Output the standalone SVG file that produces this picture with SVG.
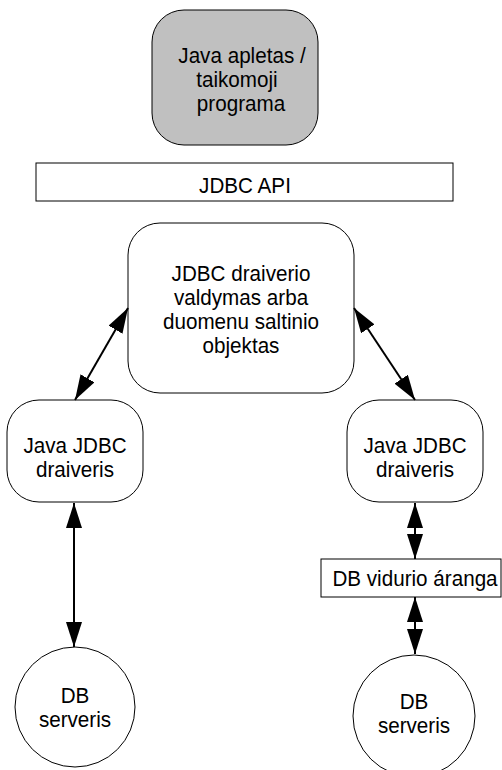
<svg xmlns="http://www.w3.org/2000/svg" width="502" height="770" viewBox="0 0 502 770">
<style>
.box{fill:#fff;stroke:#000;stroke-width:1}
.gray{fill:#c0c0c0;stroke:#000;stroke-width:1}
.t{font-family:"Liberation Sans",Arial,sans-serif;font-size:21.4px;fill:#000;text-anchor:middle}
.c{stroke:#000;stroke-width:2;fill:none;marker-start:url(#ah);marker-end:url(#ah)}
</style>
<defs>
<marker id="ah" viewBox="0 0 25 16" refX="25" refY="8" markerWidth="25" markerHeight="16" markerUnits="userSpaceOnUse" orient="auto-start-reverse">
<path d="M0,0 L25,8 L0,16 z" fill="#000"/>
</marker>
</defs>
<g id="app">
<rect class="gray" x="152" y="10" width="166" height="135" rx="32" ry="32"/>
<text class="t" transform="translate(242,63) scale(0.965,1)"><tspan x="0" y="0">Java apletas /</tspan><tspan x="-5.2" y="24">taikomoji</tspan><tspan x="-1" y="48">programa</tspan></text>
</g>
<g id="api">
<rect class="box" x="36" y="163" width="417" height="38"/>
<text class="t" transform="translate(245,193) scale(0.965,1)">JDBC API</text>
</g>
<g id="manager">
<rect class="box" x="128" y="223" width="226" height="170" rx="32" ry="32"/>
<text class="t" transform="translate(241,281) scale(0.965,1)"><tspan x="0" y="0">JDBC draiverio</tspan><tspan x="0" y="24">valdymas arba</tspan><tspan x="0" y="48">duomenu saltinio</tspan><tspan x="0" y="72">objektas</tspan></text>
</g>
<g id="driver1">
<rect class="box" x="7" y="400" width="136" height="102" rx="32" ry="32"/>
<text class="t" transform="translate(75,453) scale(0.965,1)"><tspan x="0" y="0">Java JDBC</tspan><tspan x="0" y="24">draiveris</tspan></text>
</g>
<g id="driver2">
<rect class="box" x="347" y="400" width="136" height="102" rx="32" ry="32"/>
<text class="t" transform="translate(415,453) scale(0.965,1)"><tspan x="0" y="0">Java JDBC</tspan><tspan x="0" y="24">draiveris</tspan></text>
</g>
<g id="middleware">
<rect class="box" x="321" y="559" width="180" height="38"/>
<text class="t" transform="translate(415,586) scale(0.965,1)">DB vidurio áranga</text>
</g>
<g id="db1">
<circle class="box" cx="75" cy="707" r="60"/>
<text class="t" transform="translate(75,703) scale(0.965,1)"><tspan x="0" y="0">DB</tspan><tspan x="0" y="24">serveris</tspan></text>
</g>
<g id="db2">
<circle class="box" cx="414" cy="716" r="61"/>
<text class="t" transform="translate(414,709) scale(0.965,1)"><tspan x="0" y="0">DB</tspan><tspan x="0" y="24">serveris</tspan></text>
</g>
<g id="connectors">
<line class="c" x1="75" y1="400" x2="128" y2="308"/>
<line class="c" x1="354" y1="308" x2="415" y2="400"/>
<line class="c" x1="74" y1="503" x2="74" y2="647"/>
<line class="c" x1="415" y1="503" x2="415" y2="559"/>
<line class="c" x1="415" y1="597" x2="415" y2="654"/>
</g>
</svg>
